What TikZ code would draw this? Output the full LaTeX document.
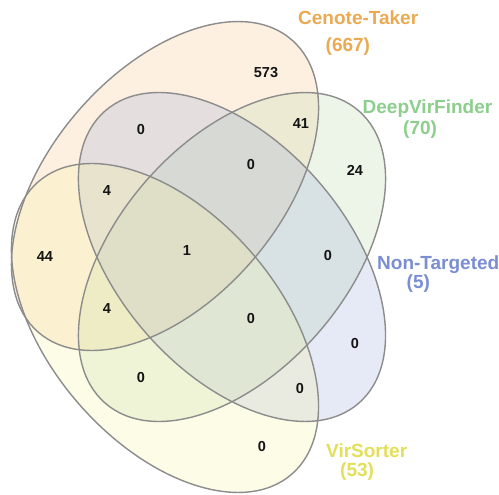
\documentclass[tikz,border=0pt]{standalone}
\usepackage{fontspec}
\setmainfont{Liberation Sans}
\definecolor{txtC}{RGB}{235,170,82}
\definecolor{txtD}{RGB}{140,207,140}
\definecolor{txtN}{RGB}{123,142,209}
\definecolor{txtV}{RGB}{226,223,88}
\definecolor{fillC}{RGB}{247,195,127}
\definecolor{fillD}{RGB}{183,215,167}
\definecolor{fillN}{RGB}{151,167,219}
\definecolor{fillV}{RGB}{247,243,155}
\definecolor{vline}{RGB}{140,140,140}
\tikzset{
  vennfill/.style={fill opacity=0.24},
  vennline/.style={draw=vline, line width=1.4pt},
  num/.style={font=\fontsize{14.5}{14.5}\selectfont\bfseries, text=black!92, inner sep=0pt},
  setlabel/.style={font=\fontsize{19}{19}\selectfont\bfseries, inner sep=0pt, anchor=base west},
}
\begin{document}
\begin{tikzpicture}[x=1pt,y=1pt]
\useasboundingbox (0,0) rectangle (499,495);
\fill[white] (0,0) rectangle (499,495);
\coordinate (cC) at (165,309);
\coordinate (cV) at (165,167);
\coordinate (cD) at (232,238);
\coordinate (cN) at (232,238);
% fills
\fill[fillC, vennfill, rotate around={49.1:(cC)}] (cC) ellipse [x radius=193.5pt, y radius=114.8pt];
\fill[fillD, vennfill, rotate around={49.1:(cD)}] (cD) ellipse [x radius=193.5pt, y radius=114.8pt];
\fill[fillN, vennfill, rotate around={-49.1:(cN)}] (cN) ellipse [x radius=193.5pt, y radius=114.8pt];
\fill[fillV, vennfill, rotate around={-49.1:(cV)}] (cV) ellipse [x radius=193.5pt, y radius=114.8pt];
% outlines
\draw[vennline, rotate around={49.1:(cC)}] (cC) ellipse [x radius=193.5pt, y radius=114.8pt];
\draw[vennline, rotate around={49.1:(cD)}] (cD) ellipse [x radius=193.5pt, y radius=114.8pt];
\draw[vennline, rotate around={-49.1:(cN)}] (cN) ellipse [x radius=193.5pt, y radius=114.8pt];
\draw[vennline, rotate around={-49.1:(cV)}] (cV) ellipse [x radius=193.5pt, y radius=114.8pt];
% region counts
\node[num] (n573) at (266,422) {573};
\node[num] (n41) at (301,371) {41};
\node[num] (n24) at (355,325) {24};
\node[num] (nCN) at (141,365) {0};
\node[num] (nCVN) at (107,304) {4};
\node[num] (nCDN) at (251,330) {0};
\node[num] (nAll) at (187,244) {1};
\node[num] (nDN) at (328,239) {0};
\node[num] (nDNV) at (251,176) {0};
\node[num] (n44) at (45,238) {44};
\node[num] (nCVD) at (107,186) {4};
\node[num] (nDV) at (141,117) {0};
\node[num] (nN) at (355,151) {0};
\node[num] (nVN) at (300,106) {0};
\node[num] (nV) at (262,48) {0};
% set labels
\node[setlabel, text=txtC] (lC) at (298,470.5) {Cenote-Taker};
\node[setlabel, text=txtC] (lCn) at (325.5,443.5) {(667)};
\node[setlabel, text=txtD] (lD) at (362.5,381) {DeepVirFinder};
\node[setlabel, text=txtD] (lDn) at (403,360.5) {(70)};
\node[setlabel, text=txtN] (lN) at (377,225.5) {Non-Targeted};
\node[setlabel, text=txtN] (lNn) at (406.5,206) {(5)};
\node[setlabel, text=txtV] (lV) at (326,37.5) {VirSorter};
\node[setlabel, text=txtV] (lVn) at (340,18.5) {(53)};
\end{tikzpicture}
\end{document}
